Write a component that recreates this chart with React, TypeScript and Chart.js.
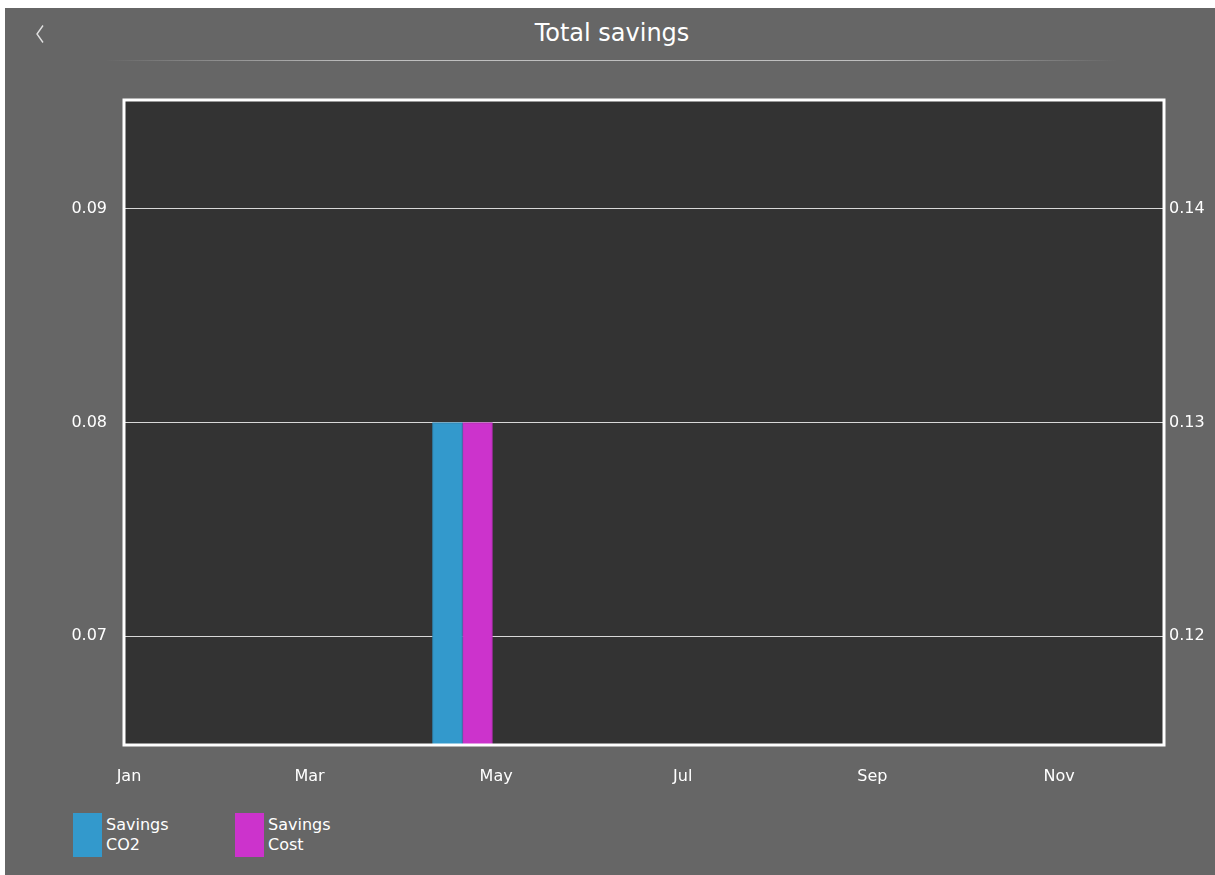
import React, { useEffect, useRef } from "react";
import { Chart, registerables } from "chart.js";

Chart.register(...registerables);

const year = 2023;
const months = ["Jan", "Feb", "Mar", "Apr", "May", "Jun", "Jul", "Aug", "Sep", "Oct", "Nov", "Dec"];
const xTickMonths = [0, 2, 4, 6, 8, 10];
const savingsDates = ["2023-04-20"];
const savingsCO2 = [0.08];
const savingsCost = [0.13];
const leftTicks = [0.07, 0.08, 0.09];
const rightTicks = [0.12, 0.13, 0.14];
const seriesNames = [["Savings", "CO2"], ["Savings", "Cost"]];
const seriesColors = ["#3399cc", "#cc33cc"];
const seriesBorders = ["#2d88b6", "#b42db4"];

const DAY = 86400000;
function dayOfYear(y: number, m: number, d: number): number {
  return Math.round((Date.UTC(y, m - 1, d) - Date.UTC(y, 0, 1)) / DAY);
}
function parseDay(s: string): number {
  const [y, m, d] = s.split("-").map(Number);
  return dayOfYear(y, m, d);
}
const monthStart = months.map((_, i) => dayOfYear(year, i + 1, 1));

const plotPlugin = {
  id: "plotFrame",
  beforeDraw(chart: any) {
    const { ctx, chartArea: a } = chart;
    ctx.save();
    ctx.fillStyle = "#333333";
    ctx.fillRect(a.left, a.top, a.right - a.left, a.bottom - a.top);
    ctx.restore();
  },
  afterDraw(chart: any) {
    const { ctx, chartArea: a } = chart;
    ctx.save();
    ctx.strokeStyle = "#ffffff";
    ctx.lineWidth = 3;
    ctx.strokeRect(a.left, a.top, a.right - a.left, a.bottom - a.top);
    ctx.restore();
  },
};

export default function App() {
  const ref = useRef<HTMLCanvasElement | null>(null);
  useEffect(() => {
    if (!ref.current) return;
    Chart.defaults.font.family = "'DejaVu Sans', Verdana, sans-serif";
    Chart.defaults.font.size = 16;
    Chart.defaults.color = "#ffffff";
    const chart = new Chart(ref.current, {
      type: "bar",
      data: {
        datasets: [
          {
            label: seriesNames[0].join(" "),
            data: savingsDates.map((d, i) => ({ x: parseDay(d), y: savingsCO2[i] })),
            backgroundColor: seriesColors[0],
            borderColor: seriesBorders[0],
            borderWidth: 1,
            yAxisID: "y",
          },
          {
            label: seriesNames[1].join(" "),
            data: savingsDates.map((d, i) => ({ x: parseDay(d), y: savingsCost[i] })),
            backgroundColor: seriesColors[1],
            borderColor: seriesBorders[1],
            borderWidth: 1,
            yAxisID: "y1",
          },
        ],
      },
      options: {
        responsive: false,
        animation: false,
        barThickness: 30,
        layout: { padding: { top: 92, left: 0, right: 0, bottom: 0 } },
        plugins: { legend: { display: false }, tooltip: { enabled: false }, title: { display: false } },
        scales: {
          x: {
            type: "linear",
            offset: false,
            min: -1.63,
            max: 338.3,
            grid: { display: false, drawTicks: false },
            border: { display: false },
            ticks: {
              padding: 22,
              color: "#ffffff",
              autoSkip: false,
              maxRotation: 0,
              callback: (v: any) => {
                const idx = monthStart.indexOf(Math.round(Number(v)));
                return idx >= 0 ? months[idx] : "";
              },
            },
            afterBuildTicks: (s: any) => {
              s.ticks = xTickMonths.map((m) => ({ value: monthStart[m] }));
            },
            afterFit: (s: any) => {
              s.height = 63;
            },
          },
          y: {
            type: "linear",
            position: "left",
            min: 0.0649,
            max: 0.0951,
            grid: { color: "#d8d8d8", lineWidth: 1, drawTicks: false },
            border: { display: false },
            ticks: { padding: 17, color: "#ffffff", callback: (v: any) => Number(v).toFixed(2) },
            afterBuildTicks: (s: any) => {
              s.ticks = leftTicks.map((v) => ({ value: v }));
            },
            afterFit: (s: any) => {
              s.width = 119;
            },
          },
          y1: {
            type: "linear",
            position: "right",
            min: 0.1149,
            max: 0.1451,
            grid: { display: false, drawTicks: false },
            border: { display: false },
            ticks: { padding: 5, color: "#ffffff", callback: (v: any) => Number(v).toFixed(2) },
            afterBuildTicks: (s: any) => {
              s.ticks = rightTicks.map((v) => ({ value: v }));
            },
            afterFit: (s: any) => {
              s.width = 51;
            },
          },
        },
      } as any,
      plugins: [plotPlugin],
    });
    return () => chart.destroy();
  }, []);

  const font = "'DejaVu Sans', Verdana, sans-serif";
  return (
    <div
      style={{
        position: "absolute",
        left: 5,
        top: 8,
        width: 1210,
        height: 867,
        background: "#666666",
        fontFamily: font,
        color: "#ffffff",
        overflow: "hidden",
      }}
    >
      <svg style={{ position: "absolute", left: 30, top: 16 }} width={10} height={20}>
        <polyline points="8,1.5 2,10 8,18.5" fill="none" stroke="#e0e0e0" strokeWidth={1.4} />
      </svg>
      <div
        style={{
          position: "absolute",
          left: 0,
          top: 11,
          width: 1214,
          textAlign: "center",
          fontSize: 24,
          lineHeight: "28px",
        }}
      >
        Total savings
      </div>
      <div
        style={{
          position: "absolute",
          left: 100,
          top: 52,
          width: 1012,
          height: 1,
          background:
            "linear-gradient(to right, rgba(200,200,200,0) 0%, rgba(200,200,200,0.9) 25%, rgba(200,200,200,0.9) 75%, rgba(200,200,200,0) 100%)",
        }}
      />
      <canvas ref={ref} width={1210} height={800} style={{ position: "absolute", left: 0, top: 0 }} />
      {seriesNames.map((lines, i) => (
        <div key={i} style={{ position: "absolute", left: 68 + i * 162, top: 805, display: "flex" }}>
          <div style={{ width: 29, height: 44, background: seriesColors[i] }} />
          <div style={{ marginLeft: 4, marginTop: 2, fontSize: 16, lineHeight: "20px" }}>
            {lines.map((l, j) => (
              <div key={j}>{l}</div>
            ))}
          </div>
        </div>
      ))}
    </div>
  );
}
